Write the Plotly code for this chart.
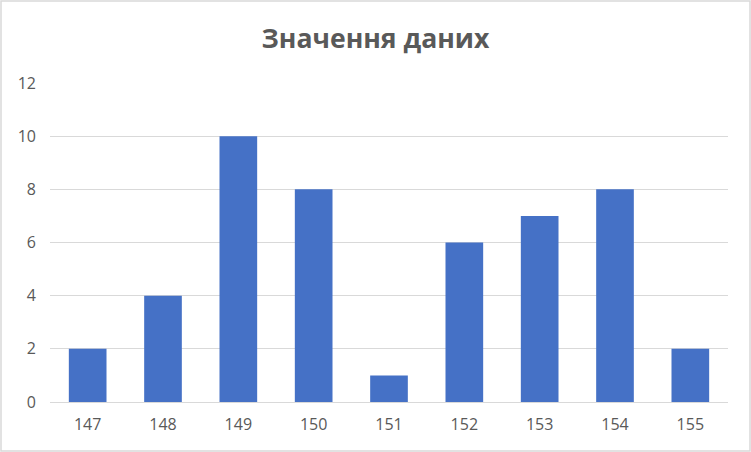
import plotly.graph_objects as go

# données du graphique
categories = ["147", "148", "149", "150", "151", "152", "153", "154", "155"]
valeurs = [2, 4, 10, 8, 1, 6, 7, 8, 2]
y_ticks = [0, 2, 4, 6, 8, 10, 12]

W, H = 751, 452
L, R, T, B = 50, 23, 83, 50
pw, ph = W - L - R, H - T - B

fig = go.Figure(go.Bar(
    x=categories, y=valeurs,
    marker=dict(color="#4571C6", line=dict(width=0)),
    width=0.5,
))

fig.update_layout(
    width=W, height=H,
    margin=dict(l=L, r=R, t=T, b=B),
    paper_bgcolor="white", plot_bgcolor="white",
    title=dict(text="<b>Значення даних</b>", x=0.5, xanchor="center",
               y=1 - 39 / H, yanchor="middle",
               font=dict(family="Open Sans", size=26.6, color="#595959")),
    font=dict(family="Open Sans", size=16, color="#595959"),
    xaxis=dict(type="category", showgrid=False, showline=False, ticks="",
               ticklabelstandoff=11),
    yaxis=dict(range=[0, 12], tickvals=y_ticks, showgrid=True,
               gridcolor="#D9D9D9", gridwidth=1, zeroline=True,
               zerolinecolor="#D9D9D9", zerolinewidth=1,
               showline=False, ticks="", ticklabelstandoff=13),
    showlegend=False,
    shapes=[dict(type="rect", xref="paper", yref="paper",
                 x0=-(L - 1) / pw, x1=1 + (R - 1) / pw,
                 y0=-(B - 1) / ph, y1=1 + (T - 1) / ph,
                 line=dict(color="#D9D9D9", width=1.5), layer="below")],
)

# enlever la marge par défaut de la page
fig.write_html("out.html", config={"displayModeBar": False},
               post_script="document.body.style.margin='0';")
